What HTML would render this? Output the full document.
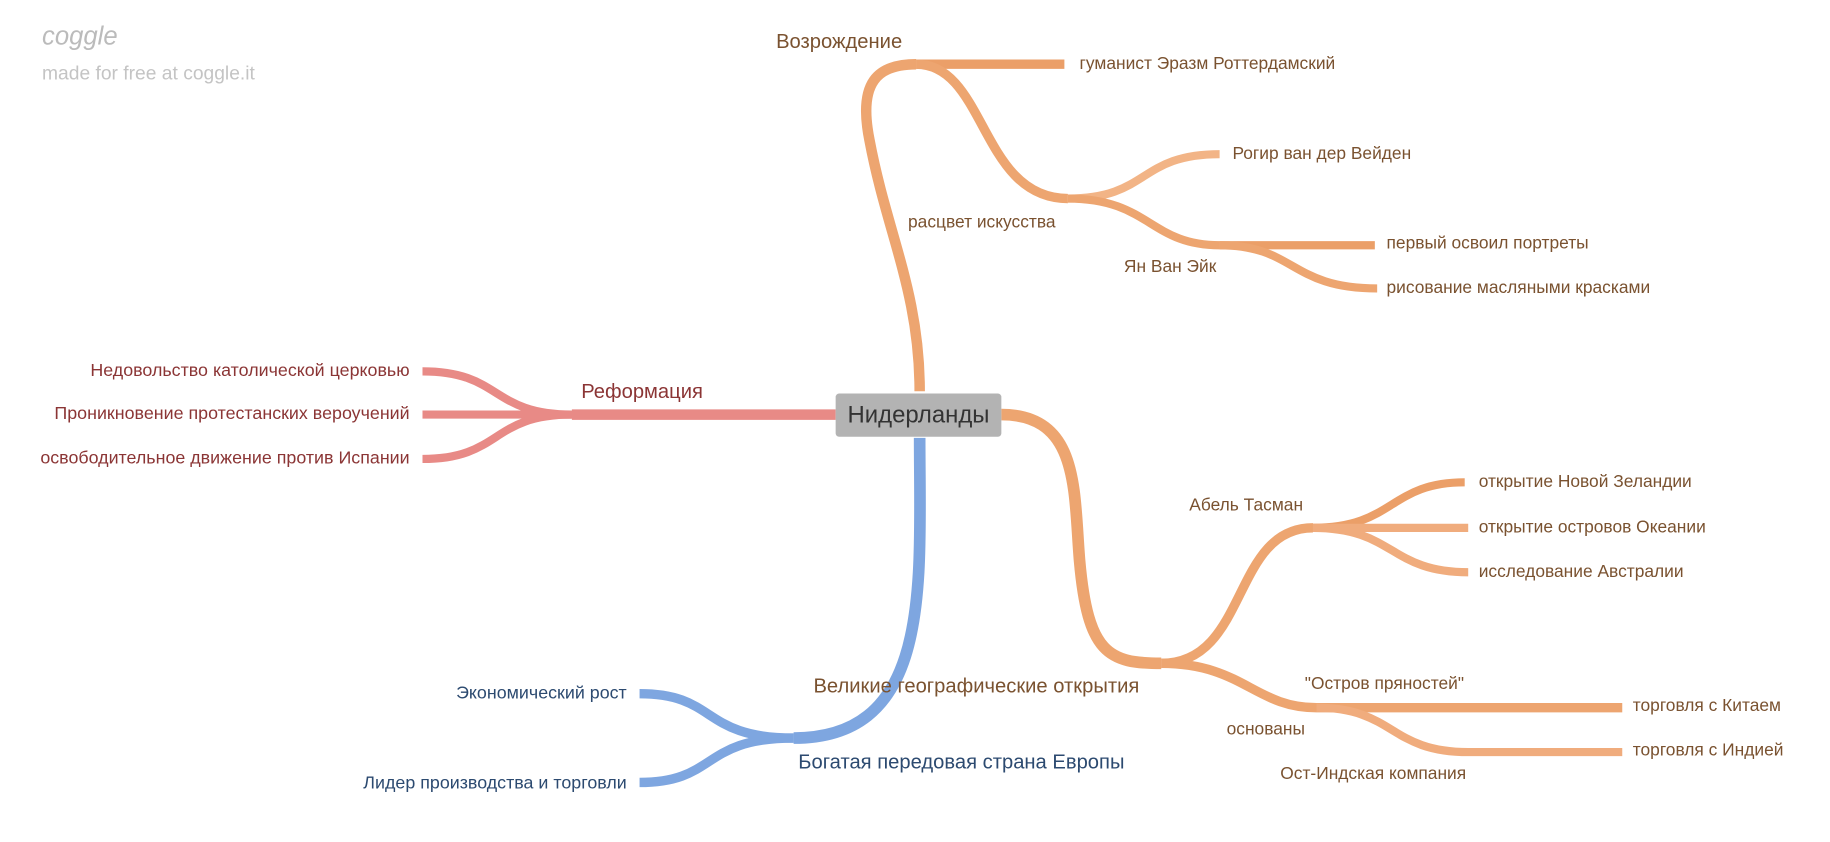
<!DOCTYPE html>
<html><head><meta charset="utf-8"><style>
html,body{margin:0;padding:0;background:#fff;width:1830px;height:842px;overflow:hidden}
svg{display:block}
text{font-family:"Liberation Sans",sans-serif}
</style></head><body>
<svg width="1830" height="842" viewBox="0 0 1568 721" preserveAspectRatio="none">
<g fill="none" stroke-linecap="butt">
<path d="M788,335 C788,250 760,200 745,120 C735,70 752,55 785,55" stroke="#eda570" stroke-width="9"/>
<path d="M785,55 L912,55" stroke="#eb9f68" stroke-width="8"/>
<path d="M785,55 C845,55 840,170 915,170" stroke="#eda570" stroke-width="8"/>
<path d="M915,170 C985,170 975,132 1045,132" stroke="#f2b486" stroke-width="7"/>
<path d="M915,170 C985,170 985,210 1045,210" stroke="#eda570" stroke-width="7"/>
<path d="M1045,210 L1178,210" stroke="#eb9f68" stroke-width="7"/>
<path d="M1045,210 C1110,210 1105,247 1180,247" stroke="#eda570" stroke-width="7"/>
<path d="M716,355 L490,355" stroke="#e88a86" stroke-width="9"/>
<path d="M490,355 C420,355 430,318 362,318" stroke="#e88a86" stroke-width="7"/>
<path d="M490,355 L362,355" stroke="#e88a86" stroke-width="7"/>
<path d="M490,355 C420,355 430,393 362,393" stroke="#e88a86" stroke-width="7"/>
<path d="M788,375 C788,500 800,632 680,632" stroke="#7ea6e0" stroke-width="10"/>
<path d="M680,632 C600,632 615,594 548,594" stroke="#7ea6e0" stroke-width="8"/>
<path d="M680,632 C600,632 615,670 548,670" stroke="#7ea6e0" stroke-width="8"/>
<path d="M858,355 C925,355 920,420 925,480 C932,560 950,568 995,568" stroke="#eda570" stroke-width="10"/>
<path d="M995,568 C1070,568 1055,452 1125,452" stroke="#eda570" stroke-width="8"/>
<path d="M1125,452 C1195,452 1190,413 1255,413" stroke="#eb9f68" stroke-width="7"/>
<path d="M1125,452 L1258,452" stroke="#f0ac7d" stroke-width="7"/>
<path d="M1125,452 C1195,452 1190,490 1258,490" stroke="#f0ac7d" stroke-width="7"/>
<path d="M995,568 C1065,568 1075,606 1128,606 L1390,606" stroke="#eda570" stroke-width="8"/>
<path d="M1128,606 C1195,606 1190,644 1258,644 L1390,644" stroke="#f0ac7d" stroke-width="7"/>
</g>
<rect x="716" y="337" width="142" height="37" rx="3" fill="#b3b3b3"/>
<text x="787" y="362" font-size="20.5" fill="#333" text-anchor="middle">Нидерланды</text>
<text x="36" y="38" font-size="22" fill="#bbb" font-style="italic" font-family="Liberation Serif,serif">coggle</text>
<text x="36" y="68" font-size="16.5" fill="#c4c4c4">made for free at coggle.it</text>
<g font-size="17.3" fill="#7a5230">
<text x="665" y="41">Возрождение</text>
<text x="697" y="593">Великие географические открытия</text>
<text x="498" y="341" fill="#8b3535">Реформация</text>
<text x="684" y="658" fill="#2c4a70">Богатая передовая страна Европы</text>
</g>
<g font-size="14.9" fill="#7a5230">
<text x="925" y="59">гуманист Эразм Роттердамский</text>
<text x="778" y="195">расцвет искусства</text>
<text x="1056" y="136">Рогир ван дер Вейден</text>
<text x="963" y="233">Ян Ван Эйк</text>
<text x="1188" y="213">первый освоил портреты</text>
<text x="1188" y="251">рисование масляными красками</text>
<text x="1019" y="437">Абель Тасман</text>
<text x="1267" y="417">открытие Новой Зеландии</text>
<text x="1267" y="456">открытие островов Океании</text>
<text x="1267" y="494">исследование Австралии</text>
<text x="1118" y="590">"Остров пряностей"</text>
<text x="1051" y="629">основаны</text>
<text x="1097" y="667">Ост-Индская компания</text>
<text x="1399" y="609">торговля с Китаем</text>
<text x="1399" y="647">торговля с Индией</text>
</g>
<g font-size="15.3" fill="#8b3535" text-anchor="end">
<text x="351" y="322">Недовольство католической церковью</text>
<text x="351" y="359">Проникновение протестанских вероучений</text>
<text x="351" y="397">освободительное движение против Испании</text>
</g>
<g font-size="15.3" fill="#2c4a70" text-anchor="end">
<text x="537" y="598">Экономический рост</text>
<text x="537" y="675">Лидер производства и торговли</text>
</g>
</svg>
</body></html>
